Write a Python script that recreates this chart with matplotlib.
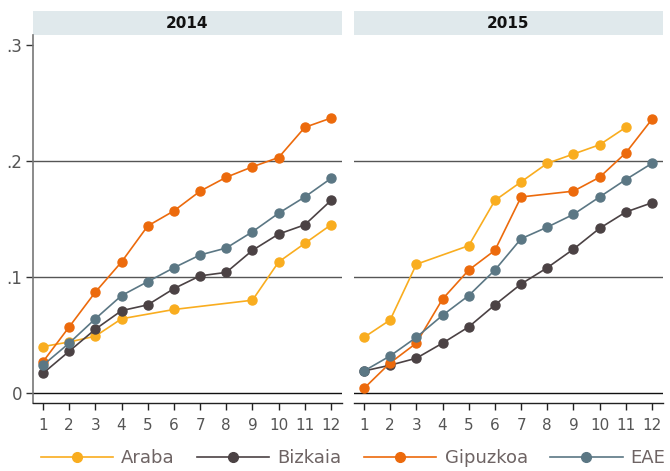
import numpy as np
import matplotlib
matplotlib.use("Agg")
import matplotlib.pyplot as plt
from matplotlib.patches import Rectangle
from matplotlib.lines import Line2D

plt.rcParams['font.family'] = ['Liberation Sans Narrow', 'DejaVu Sans']

months = list(range(1, 13))
years = ["2014", "2015"]
series_names = ["Araba", "Bizkaia", "Gipuzkoa", "EAE"]
colors = {"Araba": "#f9ad1f", "Bizkaia": "#4b4244", "Gipuzkoa": "#ec6a0c", "EAE": "#5b7784"}

nan = np.nan
araba_2014 = [0.040, 0.044, 0.049, 0.064, nan, 0.072, nan, nan, 0.080, 0.113, 0.129, 0.145]
bizkaia_2014 = [0.017, 0.036, 0.055, 0.071, 0.076, 0.090, 0.101, 0.104, 0.123, 0.137, 0.145, 0.166]
gipuzkoa_2014 = [0.027, 0.057, 0.087, 0.113, 0.144, 0.157, 0.174, 0.186, 0.195, 0.203, 0.229, 0.237]
eae_2014 = [0.024, 0.043, 0.064, 0.084, 0.096, 0.108, 0.119, 0.125, 0.139, 0.155, 0.169, 0.185]

araba_2015 = [0.048, 0.063, 0.111, nan, 0.127, 0.166, 0.182, 0.198, 0.206, 0.214, 0.229, nan]
bizkaia_2015 = [0.019, 0.024, 0.030, 0.043, 0.057, 0.076, 0.094, 0.108, 0.124, 0.142, 0.156, 0.164]
gipuzkoa_2015 = [0.004, 0.026, 0.043, 0.081, 0.106, 0.123, 0.169, nan, 0.174, 0.186, 0.207, 0.236]
eae_2015 = [0.019, 0.032, 0.048, 0.067, 0.084, 0.106, 0.133, 0.143, 0.154, 0.169, 0.184, 0.198]

data = {
    "2014": {"Araba": araba_2014, "Bizkaia": bizkaia_2014, "Gipuzkoa": gipuzkoa_2014, "EAE": eae_2014},
    "2015": {"Araba": araba_2015, "Bizkaia": bizkaia_2015, "Gipuzkoa": gipuzkoa_2015, "EAE": eae_2015},
}
ytick_vals = [0, 0.1, 0.2, 0.3]
ytick_labels = ["0", ".1", ".2", ".3"]

fig = plt.figure(figsize=(6.7, 4.71), dpi=100)
W, H = 670, 471
bottom = 1 - 403 / H
height = (403 - 35) / H
axes = [fig.add_axes([33 / W, bottom, 309 / W, height]),
        fig.add_axes([354 / W, bottom, 309 / W, height])]

tick_color = "#555555"
for ax, yr in zip(axes, years):
    ax.set_xlim(0.618, 12.42)
    ax.set_ylim(-0.0086, 0.3086)
    for g in [0.1, 0.2]:
        ax.axhline(g, color="#555555", lw=1.0, zorder=1)
    ax.axhline(0, color="#111111", lw=1.0, zorder=1)
    for name in series_names:
        y = np.array(data[yr][name], dtype=float)
        x = np.array(months, dtype=float)
        m = ~np.isnan(y)
        ax.plot(x[m], y[m], color=colors[name], lw=1.2, marker="o", ms=6.5,
                zorder=3, clip_on=False)
    ax.set_xticks(months)
    ax.set_xticklabels([str(m) for m in months], color=tick_color, fontsize=11)
    ax.tick_params(axis="x", length=5, width=1, color="#222222", pad=6)
    for s in ["top", "right"]:
        ax.spines[s].set_visible(False)
    ax.spines["bottom"].set_color("#222222")
    ax.spines["bottom"].set_linewidth(1.0)
    # strip
    ax.add_patch(Rectangle((0, 1), 1, 24 / 368, transform=ax.transAxes,
                           facecolor="#e0e9ec", edgecolor="none", clip_on=False))
    ax.text(0.5, 1 + 12 / 368, yr, transform=ax.transAxes, ha="center", va="center",
            fontsize=11, fontweight="bold", color="#111111", family="DejaVu Sans")

axl, axr = axes
axl.set_yticks(ytick_vals)
axl.set_yticklabels(ytick_labels, color=tick_color, fontsize=12)
axl.tick_params(axis="y", length=5, width=1, color="#333333", pad=3)
axl.spines["left"].set_color("#777777")
axl.spines["left"].set_linewidth(1.2)
axr.set_yticks([])
axr.spines["left"].set_visible(False)

handles = [Line2D([], [], color=colors[n], lw=1.2, marker="o", ms=7) for n in series_names]
leg = fig.legend(handles, series_names, loc="center", bbox_to_anchor=(0.527, 0.027), ncol=4,
                 frameon=False, fontsize=13, handlelength=4.0, columnspacing=1.25,
                 handletextpad=0.45, borderaxespad=0, borderpad=0)
for t in leg.get_texts():
    t.set_color("#6e6464")

fig.savefig("out.png", dpi=100)
